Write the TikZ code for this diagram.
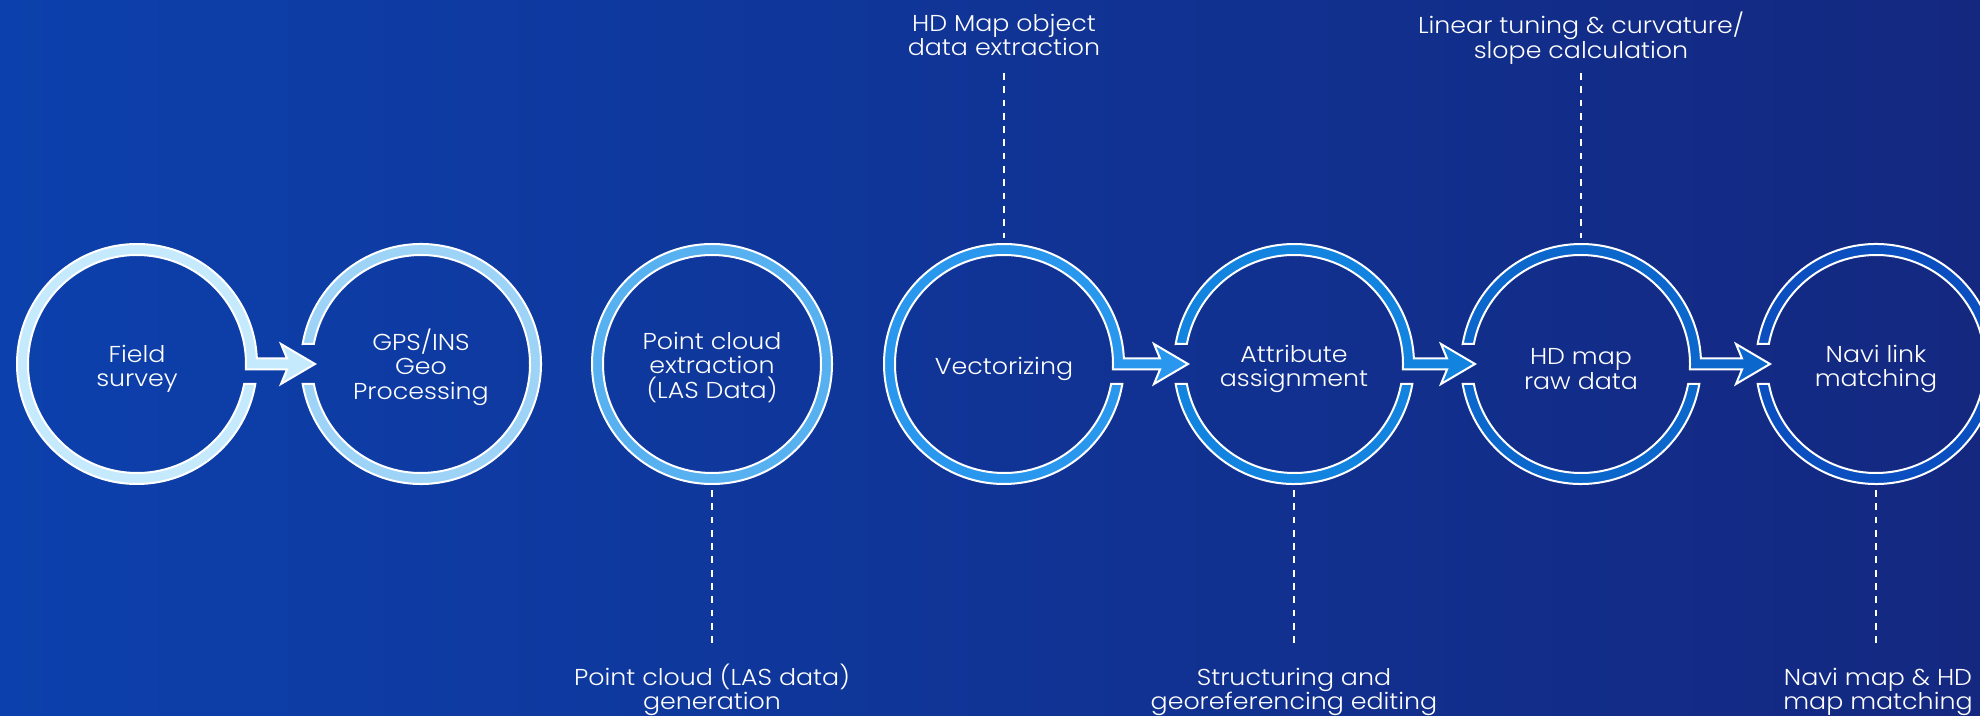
\documentclass[tikz,border=0pt]{standalone}
\usepackage{fontspec}
\newfontfamily\lblfont[FakeStretch=1.1]{Poppins Light}
\usetikzlibrary{calc}
\definecolor{bgL}{RGB}{12,64,172}
\definecolor{bgR}{RGB}{20,40,128}
\definecolor{rc1}{RGB}{198,234,253}
\definecolor{rc2}{RGB}{158,211,248}
\definecolor{rc3}{RGB}{87,177,241}
\definecolor{rc4}{RGB}{42,151,238}
\definecolor{rc5}{RGB}{18,132,223}
\definecolor{rc6}{RGB}{12,103,205}
\definecolor{rc7}{RGB}{10,78,192}
\begin{document}
\begin{tikzpicture}[x=1pt,y=1pt,
  ring/.style={draw=white, line width=2pt, line join=miter},
  txt/.style={text=white, align=center, inner sep=0pt, outer sep=0pt,
    font=\lblfont\fontsize{23pt}{24.5pt}\selectfont},
  cnode/.style={circle, minimum size=242pt, inner sep=0pt, outer sep=0pt},
  dashline/.style={draw=white, line width=2.8pt, dash pattern=on 6.7pt off 6.6pt}]
\useasboundingbox (0,0) rectangle (1980,715);
\clip (0,0) rectangle (1980,715);
\fill[left color=bgL, right color=bgR] (0,0) rectangle (1980,715);

% circle nodes
\node[cnode] (c1) at (137,351) {};
\node[cnode] (c2) at (421,351) {};
\node[cnode] (c3) at (712,351) {};
\node[cnode] (c4) at (1004,351) {};
\node[cnode] (c5) at (1294,351) {};
\node[cnode] (c6) at (1581,351) {};
\node[cnode] (c7) at (1876,351) {};

% circle texts
\node[txt] (l1) at ([yshift=-5pt]c1.center) {Field\\survey};
\node[txt] (l2) at ([yshift=-3pt]c2.center) {GPS/INS\\Geo\\Processing};
\node[txt] (l3) at ([yshift=-3pt]c3.center) {Point cloud\\extraction\\(LAS Data)};
\node[txt] (l4) at ([yshift=-5pt]c4.center) {Vectorizing};
\node[txt] (l5) at ([yshift=-5pt]c5.center) {Attribute\\assignment};
\node[txt] (l6) at ([yshift=-5pt]c6.center) {HD map\\raw data};
\node[txt] (l7) at ([yshift=-5pt]c7.center) {Navi link\\matching};

% ring 1: source with arrow to c2
\filldraw[ring, fill=rc1] ($(c1.center)+(2.627:120)$) arc[start angle=2.627, end angle=350.406, radius=120]
  -- ($(c1.center)+(349.427:109)$) arc[start angle=349.427, end angle=-2.892, radius=109]
  -- ($(c2.center)+(-134,-5.5)$) -- ($(c2.center)+(-140,-20)$) -- ($(c2.center)+(-106,0)$)
  -- ($(c2.center)+(-140,20)$) -- ($(c2.center)+(-134,5.5)$) -- cycle;
% ring 2: target only
\filldraw[ring, fill=rc2] ($(c2.center)+(170.406:120)$) arc[start angle=170.406, end angle=-170.406, radius=120]
  -- ($(c2.center)+(-169.427:109)$) arc[start angle=-169.427, end angle=169.427, radius=109] -- cycle;
% ring 3: full
\filldraw[ring, fill=rc3, even odd rule] (c3.center) circle[radius=120] (c3.center) circle[radius=109];
% ring 4: source with arrow to c5
\filldraw[ring, fill=rc4] ($(c4.center)+(2.627:120)$) arc[start angle=2.627, end angle=350.406, radius=120]
  -- ($(c4.center)+(349.427:109)$) arc[start angle=349.427, end angle=-2.892, radius=109]
  -- ($(c5.center)+(-134,-5.5)$) -- ($(c5.center)+(-140,-20)$) -- ($(c5.center)+(-106,0)$)
  -- ($(c5.center)+(-140,20)$) -- ($(c5.center)+(-134,5.5)$) -- cycle;
% ring 5: target + source to c6
\filldraw[ring, fill=rc5] ($(c5.center)+(2.627:120)$) arc[start angle=2.627, end angle=170.406, radius=120]
  -- ($(c5.center)+(169.427:109)$) arc[start angle=169.427, end angle=-2.892, radius=109]
  -- ($(c6.center)+(-134,-5.5)$) -- ($(c6.center)+(-140,-20)$) -- ($(c6.center)+(-106,0)$)
  -- ($(c6.center)+(-140,20)$) -- ($(c6.center)+(-134,5.5)$) -- cycle;
\filldraw[ring, fill=rc5] ($(c5.center)+(189.594:120)$) arc[start angle=189.594, end angle=350.406, radius=120]
  -- ($(c5.center)+(349.427:109)$) arc[start angle=349.427, end angle=190.573, radius=109] -- cycle;
% ring 6: target + source to c7
\filldraw[ring, fill=rc6] ($(c6.center)+(2.627:120)$) arc[start angle=2.627, end angle=170.406, radius=120]
  -- ($(c6.center)+(169.427:109)$) arc[start angle=169.427, end angle=-2.892, radius=109]
  -- ($(c7.center)+(-134,-5.5)$) -- ($(c7.center)+(-140,-20)$) -- ($(c7.center)+(-106,0)$)
  -- ($(c7.center)+(-140,20)$) -- ($(c7.center)+(-134,5.5)$) -- cycle;
\filldraw[ring, fill=rc6] ($(c6.center)+(189.594:120)$) arc[start angle=189.594, end angle=350.406, radius=120]
  -- ($(c6.center)+(349.427:109)$) arc[start angle=349.427, end angle=190.573, radius=109] -- cycle;
% ring 7: target only
\filldraw[ring, fill=rc7] ($(c7.center)+(170.406:120)$) arc[start angle=170.406, end angle=-170.406, radius=120]
  -- ($(c7.center)+(-169.427:109)$) arc[start angle=-169.427, end angle=169.427, radius=109] -- cycle;

% annotation labels
\node[txt, anchor=north] (t4) at (1004,701) {HD Map object\\data extraction};
\node[txt, anchor=north] (t6) at (1581,703) {Linear tuning \& curvature/\\slope calculation};
\node[txt, anchor=south] (b3) at (712,-1) {Point cloud (LAS data)\\generation};
\node[txt, anchor=south] (b5) at (1294,-1) {Structuring and\\georeferencing editing};
\node[txt, anchor=south] (b7) at (1878,-1) {Navi map \& HD\\map matching};

% dashed leaders
\draw[dashline] (c4.north |- 0,642) -- ($(c4.north)+(0,5)$);
\draw[dashline] (c6.north |- 0,642) -- ($(c6.north)+(0,5)$);
\draw[dashline] ($(c3.south)+(0,-5)$) -- (c3.south |- 0,70);
\draw[dashline] ($(c5.south)+(0,-5)$) -- (c5.south |- 0,70);
\draw[dashline] ($(c7.south)+(0,-5)$) -- (c7.south |- 0,70);
\end{tikzpicture}
\end{document}
